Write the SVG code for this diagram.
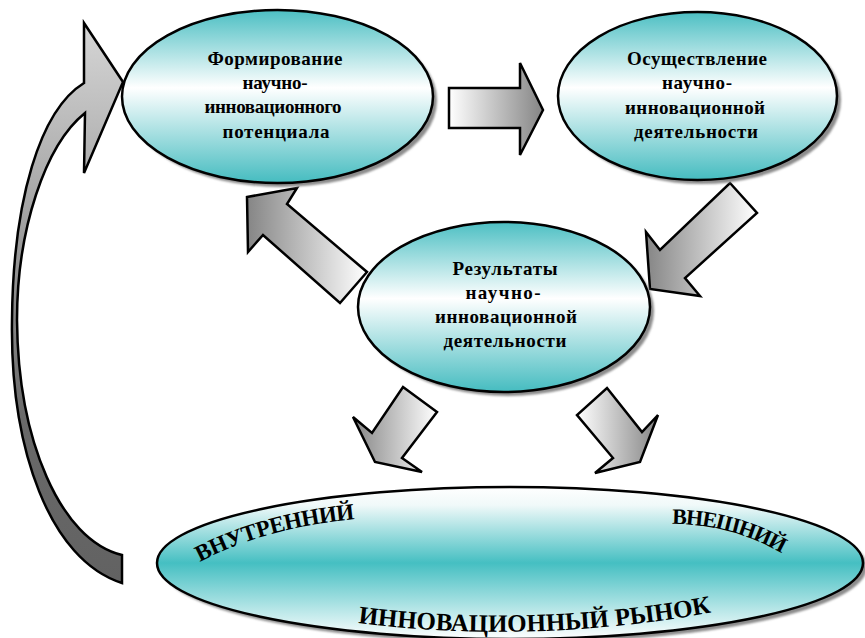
<svg xmlns="http://www.w3.org/2000/svg" width="865" height="638" viewBox="0 0 865 638">
<defs>
<linearGradient id="gEll" x1="0" y1="0" x2="0" y2="1">
<stop offset="0" stop-color="#4cbfc3"/>
<stop offset="0.45" stop-color="#ffffff"/>
<stop offset="1" stop-color="#45bcc0"/>
</linearGradient>
<linearGradient id="gMarket" x1="0" y1="0" x2="0" y2="1">
<stop offset="0" stop-color="#ffffff"/>
<stop offset="0.12" stop-color="#f0f9f9"/>
<stop offset="0.5" stop-color="#45bfc2"/>
<stop offset="1" stop-color="#ffffff"/>
</linearGradient>
<linearGradient id="gL" x1="0" y1="0" x2="1" y2="0">
<stop offset="0" stop-color="#ffffff"/>
<stop offset="1" stop-color="#858585"/>
</linearGradient>
<linearGradient id="gR" x1="0" y1="0" x2="1" y2="0">
<stop offset="0" stop-color="#858585"/>
<stop offset="1" stop-color="#ffffff"/>
</linearGradient>
<linearGradient id="gCurve" gradientUnits="userSpaceOnUse" x1="0" y1="583" x2="0" y2="23">
<stop offset="0" stop-color="#626262"/>
<stop offset="0.3" stop-color="#6a6a6a"/>
<stop offset="0.6" stop-color="#9a9a9a"/>
<stop offset="1" stop-color="#d6d6d6"/>
</linearGradient>
<filter id="blur" x="-10%" y="-10%" width="120%" height="120%">
<feGaussianBlur stdDeviation="1"/>
</filter>
</defs>
<style>
.ell{stroke:#000;stroke-width:2.5;fill:url(#gEll)}
.shadow{fill:#8c8c8c;filter:url(#blur)}
.arr{stroke:#000;stroke-width:2.5;stroke-linejoin:miter}
.t{font-family:'Liberation Serif','Times New Roman',serif;font-weight:700;font-size:19px;text-anchor:middle;fill:#000}
.m{font-family:'Liberation Serif','Times New Roman',serif;font-weight:700;fill:#000}
</style>

<g id="connectors">
<path class="arr" fill="url(#gCurve)" d="M122,583 C50,560 10,450 12,320 C13,200 40,110 84,83 L84,23 L123,82 L84,173 L85,113 C45,145 17,230 17,320 C18,440 60,540 122,555 Z"/>
<polygon class="arr" fill="url(#gL)" points="449,88 520,88 520,63 543,110 520,155 520,128 449,128"/>
<polygon class="arr" fill="url(#gR)" points="730,183 757,213 685,278 700,296 650,289 646,232 660,250"/>
<polygon class="arr" fill="url(#gR)" points="247,197 297,188 287,204 367,272 340,303 263,235 248,252"/>
<polygon class="arr" fill="url(#gR)" points="403,387 437,412 402,458 422,472 375,462 353,417 372,433"/>
<polygon class="arr" fill="url(#gL)" points="607,388 642,432 658,415 640,462 595,473 613,458 577,415"/>
</g>

<g id="node-formation">
<ellipse class="shadow" cx="281.5" cy="100.5" rx="155.5" ry="86.5"/>
<ellipse class="ell" cx="277.5" cy="96.5" rx="155.5" ry="86.5"/>
<text class="t" x="275" y="65" textLength="135" lengthAdjust="spacing">Формирование</text>
<text class="t" x="275" y="89" textLength="65" lengthAdjust="spacing">научно-</text>
<text class="t" x="273" y="113" textLength="137" lengthAdjust="spacing">инновационного</text>
<text class="t" x="276" y="138" textLength="107" lengthAdjust="spacing">потенциала</text>
</g>

<g id="node-implementation">
<ellipse class="shadow" cx="701.5" cy="100" rx="139.5" ry="84"/>
<ellipse class="ell" cx="697.5" cy="96" rx="139.5" ry="84"/>
<text class="t" x="697" y="65" textLength="140" lengthAdjust="spacing">Осуществление</text>
<text class="t" x="697" y="89" textLength="70" lengthAdjust="spacing">научно-</text>
<text class="t" x="695" y="114" textLength="140" lengthAdjust="spacing">инновационной</text>
<text class="t" x="696" y="138" textLength="124" lengthAdjust="spacing">деятельности</text>
</g>

<g id="node-results">
<ellipse class="shadow" cx="508" cy="311" rx="146" ry="85"/>
<ellipse class="ell" cx="504" cy="307" rx="146" ry="85"/>
<text class="t" x="505" y="275" textLength="105" lengthAdjust="spacing">Результаты</text>
<text class="t" x="503" y="299" textLength="75" lengthAdjust="spacing">научно-</text>
<text class="t" x="506" y="323" textLength="142" lengthAdjust="spacing">инновационной</text>
<text class="t" x="505" y="347" textLength="123" lengthAdjust="spacing">деятельности</text>
</g>

<g id="node-market">
<ellipse class="shadow" cx="514" cy="567" rx="353" ry="76"/>
<ellipse class="ell" style="fill:url(#gMarket)" cx="510" cy="563" rx="353" ry="76"/>
<path id="pIn" d="M200,562 Q270,525 368,518" fill="none"/>
<path id="pOut" d="M672,524 Q735,524 790,558" fill="none"/>
<path id="pMk" d="M358,623 Q535,645 714,612" fill="none"/>
<text class="m" font-size="23"><textPath href="#pIn" textLength="162" lengthAdjust="spacing">ВНУТРЕННИЙ</textPath></text>
<text class="m" font-size="22"><textPath href="#pOut" textLength="115" lengthAdjust="spacing">ВНЕШНИЙ</textPath></text>
<text class="m" font-size="25"><textPath href="#pMk" textLength="355" lengthAdjust="spacing">ИННОВАЦИОННЫЙ РЫНОК</textPath></text>
</g>
</svg>
